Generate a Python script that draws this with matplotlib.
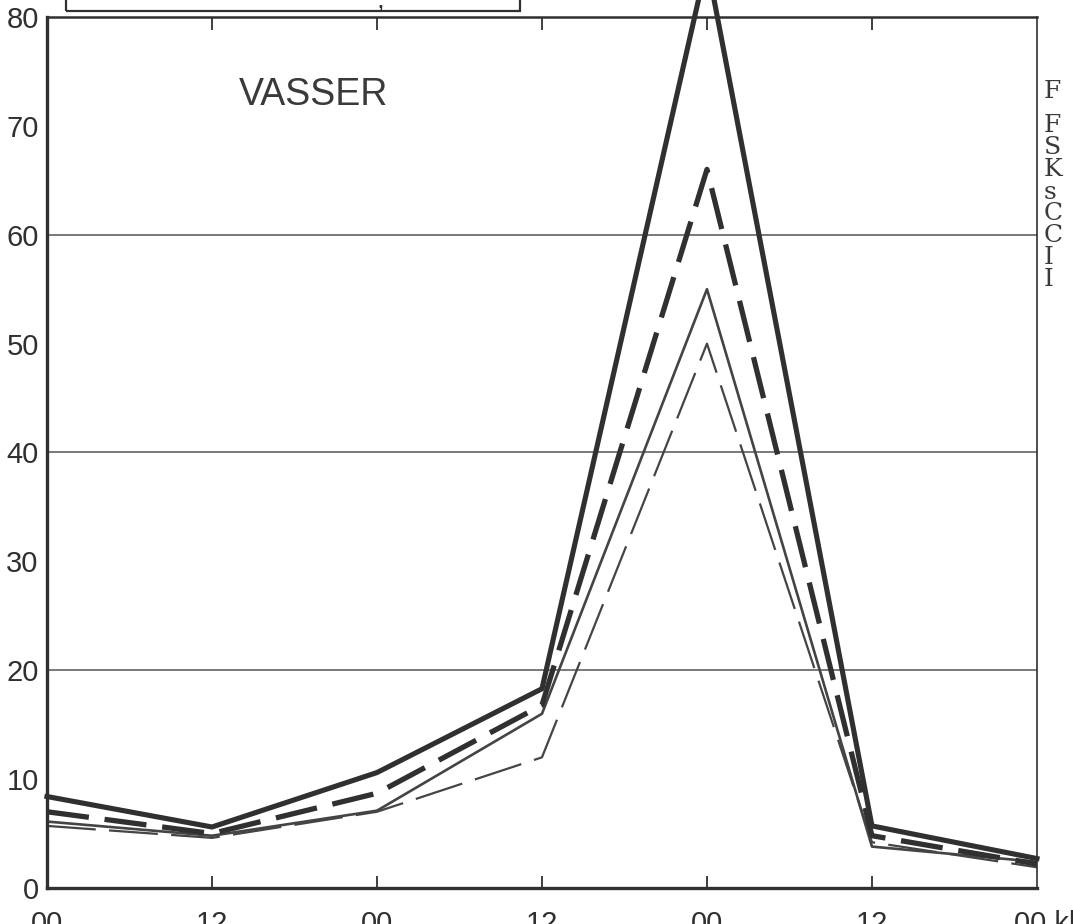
import numpy as np
import matplotlib
matplotlib.use("Agg")
import matplotlib.pyplot as plt
from matplotlib.patches import Rectangle

# Time axis: every 12 hours, three days
hours = np.arange(7)
hour_labels = ['00', '12', '00', '12', '00', '12', '00 kl']

# Water values for the four series
thick_solid = [8.4, 5.6, 10.6, 18.3, 85.0, 5.7, 2.7]
thick_dashed = [7.0, 5.0, 8.7, 16.8, 66.0, 4.8, 2.2]
thin_solid = [6.1, 4.8, 7.1, 16.0, 55.0, 3.8, 2.4]
thin_dashed = [5.7, 4.6, 7.0, 12.0, 50.0, 4.2, 1.9]

grid_levels = [20, 40, 60]
ink = '#303030'

plt.rcParams['font.family'] = ['Liberation Sans', 'DejaVu Sans']

fig = plt.figure(figsize=(10.73, 9.24), dpi=100)
ax = fig.add_axes([0.0438, 0.039, 0.9226, 0.9426])

ax.hlines(grid_levels, 0, 6, color='#555555', lw=1.1, zorder=1)

ax.plot(hours, thin_dashed, color='#444444', lw=1.6, dashes=(22, 6), zorder=2)
ax.plot(hours, thin_solid, color='#444444', lw=1.9, zorder=2)
ax.plot(hours, thick_dashed, color=ink, lw=3.8, dashes=(8, 3), zorder=3)
ax.plot(hours, thick_solid, color=ink, lw=3.7, zorder=4, clip_on=False)

ax.set_xlim(0, 6)
ax.set_ylim(0, 80)

# spines
for side, w in [('left', 2.4), ('bottom', 2.4), ('top', 1.8), ('right', 1.2)]:
    ax.spines[side].set_linewidth(w)
    ax.spines[side].set_color(ink)

ax.set_yticks(np.arange(0, 81, 10))
ax.set_yticklabels([str(v) for v in range(0, 81, 10)], fontsize=21, color=ink)
ax.set_yticks([10, 30, 50, 70], minor=True)
ax.tick_params(axis='y', which='major', length=0, pad=6)
ax.tick_params(axis='y', which='minor', direction='in', length=8, width=1.5,
               color=ink)

ax.set_xticks(hours[1:-1], minor=True)
ax.tick_params(axis='x', which='minor', direction='in', length=9, width=1.3,
               top=True, bottom=True, color=ink)
ax.set_xticks([])

# hour labels under the axis, partly running off the page
for h, lab in zip(hours, hour_labels):
    if lab.endswith('kl'):
        ax.text(h - 0.14, -2.0, lab, ha='left', va='top', fontsize=21,
                color=ink)
    else:
        ax.text(h, -2.0, lab, ha='center', va='top', fontsize=21, color=ink)

ax.text(1.165, 72.8, 'VASSER', fontsize=27, color='#3a3a3a', va='center',
        ha='left')

# frame of the legend box, cut by the page top
fig.patches.append(Rectangle((66 / 1073, 1 - 11 / 924), (520 - 66) / 1073, 0.1,
                             transform=fig.transFigure, fill=False,
                             edgecolor=ink, lw=1.6))
fig.text(380 / 1073, 1 - 2 / 924, ',', fontsize=20, color=ink,
         ha='center', va='center')

# margin text at the right edge
side_rows = [('F', 92), ('F', 125), ('S', 148), ('K', 170), ('s', 192),
             ('C', 214), ('C', 236), ('I', 258), ('I', 280)]
for ch, ypix in side_rows:
    fig.text(1044 / 1073, 1 - ypix / 924, ch, fontsize=18, color='#3a3a3a',
             family='DejaVu Serif', ha='left', va='center')

fig.savefig('out.png', dpi=100)
